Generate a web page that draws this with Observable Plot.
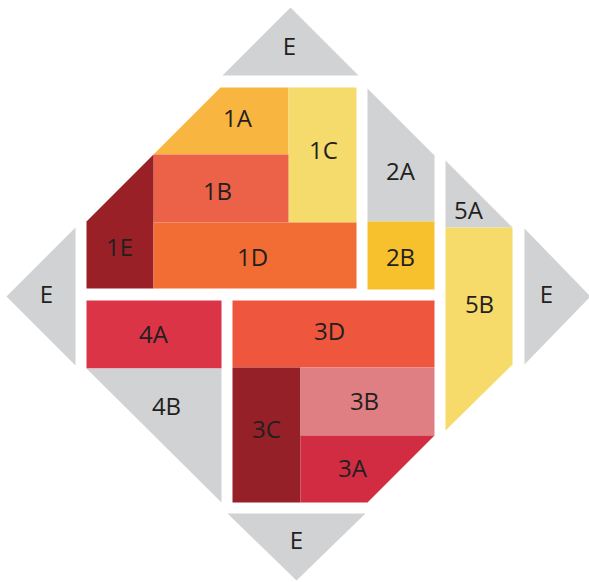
<!DOCTYPE html>
<html>
<head>
<meta charset="utf-8">
<script src="https://cdn.jsdelivr.net/npm/d3@7"></script>
<script src="https://cdn.jsdelivr.net/npm/@observablehq/plot@0.6"></script>
<style>
  html, body { margin: 0; padding: 0; background: #fff; }
  #chart svg { display: block; }
</style>
</head>
<body>
<div id="chart"></div>
<script>
// Cell identifiers and labels
const cellIds    = ["1A","1C","1B","1E","1D","2A","2B","5A","5B","Eright","Eleft","Etop","Ebottom","4A","4B","3D","3C","3B","3A"];
const cellLabels = ["1A","1C","1B","1E","1D","2A","2B","5A","5B","E","E","E","E","4A","4B","3D","3C","3B","3A"];
// Fill colours
const cellColors = ["#F8B540","#F5DB6B","#EC6249","#9A2027","#F26D33","#D1D2D4","#F7C12D","#D1D2D4","#F6DB6B","#D1D2D4","#D1D2D4","#D1D2D4","#D1D2D4","#DB3447","#D1D2D4","#EE563E","#962027","#E07F83","#D22C42"];
// Polygon vertices of each cell (layout units)
const cellPolygons = [
  [[220,87],[288,87],[288,154],[153,154]],
  [[288,87],[356,87],[356,222],[288,222]],
  [[153,154],[288,154],[288,222],[153,222]],
  [[153,154],[153,288],[86,288],[86,221]],
  [[153,222],[356,222],[356,288],[153,288]],
  [[367,88],[434,155],[434,221],[367,221]],
  [[367,221],[434,221],[434,289],[367,289]],
  [[445,160],[512,227],[445,227]],
  [[445,227],[512,227],[512,364],[445,430]],
  [[524,228],[590,296],[524,364]],
  [[6,296],[75,227],[75,365]],
  [[290,7],[358,75],[222,75]],
  [[227,513],[365,513],[296,580]],
  [[86,300],[221,300],[221,368],[86,368]],
  [[86,368],[221,368],[221,502]],
  [[232,300],[434,300],[434,367],[232,367]],
  [[232,367],[300,367],[300,502],[232,502]],
  [[300,367],[434,367],[434,435],[300,435]],
  [[300,435],[434,435],[367,502],[300,502]]
];
// Label anchor positions
const labelX = [237,323,217,119,252,400,400,468,479,546,46,289,296,153,166,329,266,364,352];
const labelY = [119,151,192,248,258,172,258,211,305,295,295,47,541,335,407,332,430,402,469];

const verts = [];
cellPolygons.forEach((poly, i) => {
  poly.forEach(([x, y]) => verts.push({id: cellIds[i], x, y, color: cellColors[i]}));
});
const labels = cellIds.map((id, i) => ({id, label: cellLabels[i], x: labelX[i], y: labelY[i]}));

const chart = Plot.plot({
  width: 589,
  height: 582,
  margin: 0,
  x: {domain: [0, 589], axis: null},
  y: {domain: [0, 582], reverse: true, axis: null},
  color: {type: "identity"},
  style: {background: "#fff"},
  marks: [
    Plot.line(verts, {x: "x", y: "y", z: "id", fill: "color", stroke: "none", curve: "linear-closed"}),
    Plot.text(labels, {x: "x", y: "y", text: "label", fill: "#231F20", fontSize: 24, fontWeight: 400, fontFamily: "'Open Sans', Lato, sans-serif", textAnchor: "middle", lineAnchor: "middle"})
  ]
});
document.getElementById("chart").appendChild(chart);
</script>
</body>
</html>
